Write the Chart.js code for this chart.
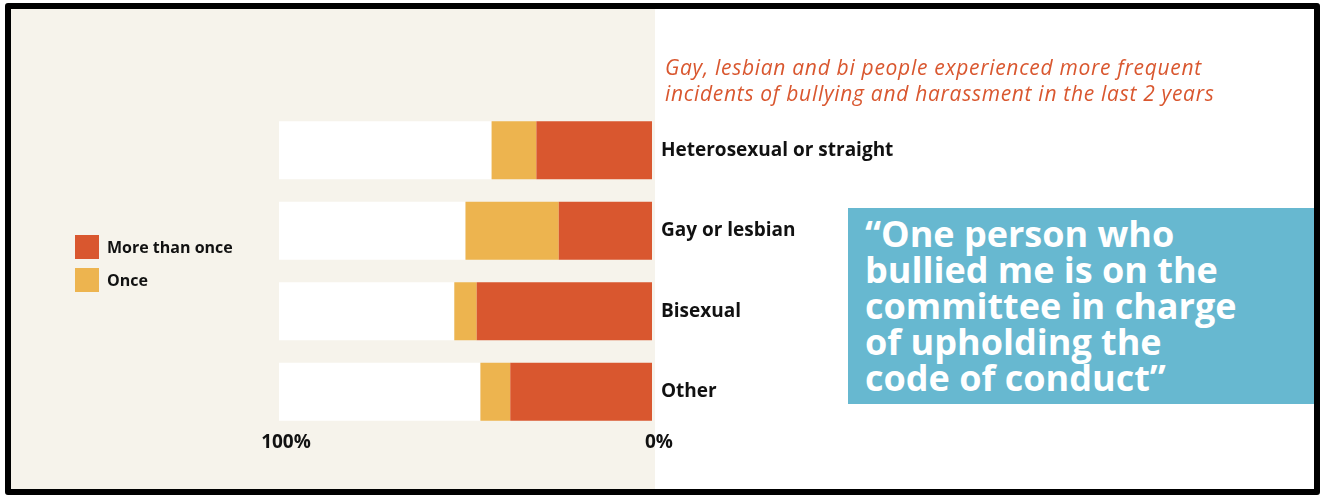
<!DOCTYPE html>
<html>
<head>
<meta charset="utf-8">
<script src="https://cdn.jsdelivr.net/npm/chart.js@4.4.1/dist/chart.umd.min.js"></script>
<style>
  html, body { margin: 0; padding: 0; background: #fff; }
  #stage { position: relative; width: 1320px; height: 497px; overflow: hidden; background: #fff; font-family: 'Open Sans', sans-serif; }
  #panel { position: absolute; left: 11px; top: 9px; width: 644px; height: 480px; background: #f6f3eb; }
  #frame { position: absolute; left: 5px; top: 3px; width: 1315px; height: 492px; border: 6px solid #000; border-radius: 3px; box-sizing: border-box; }
  #chartBox { position: absolute; left: 0; top: 0; width: 1320px; height: 497px; }
  #title { position: absolute; left: 665px; top: 54px; font-size: 21px; line-height: 26px; letter-spacing: 0.7px; font-style: italic; color: #d9572f; }
  #legend { position: absolute; left: 75px; top: 235px; }
  .legend-item { display: flex; align-items: center; height: 24px; margin-bottom: 9px; font-size: 16px; font-weight: 700; color: #111; }
  .legend-swatch { width: 24px; height: 24px; margin-right: 8px; }
  #quote { position: absolute; left: 848px; top: 208px; width: 466px; height: 196px; background: #67b8d0; color: #fff;
           font-size: 36px; line-height: 36px; font-weight: 700; padding: 8px 0 0 17px; box-sizing: border-box; }
</style>
</head>
<body>
<div id="stage">
  <div id="panel"></div>
  <div id="chartBox"><canvas id="barChartCanvas" width="1320" height="497"></canvas></div>
  <div id="title">Gay, lesbian and bi people experienced more frequent<br>incidents of bullying and harassment in the last 2 years</div>
  <div id="legend"></div>
  <div id="quote">“One person who<br>bullied me is on the<br>committee in charge<br>of upholding the<br>code of conduct”</div>
  <div id="frame"></div>
</div>
<script>
const categories = ['Heterosexual or straight', 'Gay or lesbian', 'Bisexual', 'Other'];
const moreThanOnce = [31, 25, 47, 38];
const once = [12, 25, 6, 8];
const axisTicks = [100, 0];

// white part of each bar: whatever is left up to 100%
const remainder = categories.map((c, i) => 100 - moreThanOnce[i] - once[i]);

Chart.defaults.font.family = "'Open Sans', sans-serif";
Chart.defaults.color = '#111';

const chart = new Chart('barChartCanvas', {
    type: 'bar',
    data: {
        labels: categories,
        datasets: [
            {
                label: 'More than once',
                data: moreThanOnce,
                backgroundColor: '#d9572f'
            },
            {
                label: 'Once',
                data: once,
                backgroundColor: '#edb44f'
            },
            {
                label: '',
                data: remainder,
                backgroundColor: '#ffffff'
            }
        ]
    },
    options: {
        indexAxis: 'y',
        responsive: false,
        animation: false,
        events: [],
        layout: {
            padding: { left: 279, right: 408, top: 110, bottom: 35 }
        },
        datasets: {
            bar: { categoryPercentage: 1, barPercentage: 0.72, borderWidth: 0 }
        },
        plugins: {
            legend: { display: false },
            tooltip: { enabled: false }
        },
        scales: {
            x: {
                stacked: true,
                reverse: true,
                min: 0,
                max: 100,
                grid: { display: false, drawTicks: false },
                border: { display: false },
                afterBuildTicks: (scale) => { scale.ticks = axisTicks.map(v => ({ value: v })); },
                afterFit: (scale) => { scale.height = 30; },
                ticks: {
                    padding: -1,
                    labelOffset: 7,
                    maxRotation: 0,
                    font: { size: 19, weight: 'bold' },
                    callback: (v) => v + '%'
                }
            },
            y: {
                stacked: true,
                position: 'right',
                grid: { display: false, drawTicks: false },
                border: { display: false },
                afterFit: (scale) => { scale.width = 260; },
                ticks: {
                    padding: 9,
                    font: { size: 19, weight: 'bold' }
                }
            }
        }
    }
});

// legend built from the labelled datasets
const legendBox = document.getElementById('legend');
chart.data.datasets.filter(d => d.label).forEach(d => {
    const item = document.createElement('div');
    item.className = 'legend-item';
    item.innerHTML = '<span class="legend-swatch" style="background:' + d.backgroundColor + '"></span>' + d.label;
    legendBox.appendChild(item);
});
</script>
</body>
</html>
